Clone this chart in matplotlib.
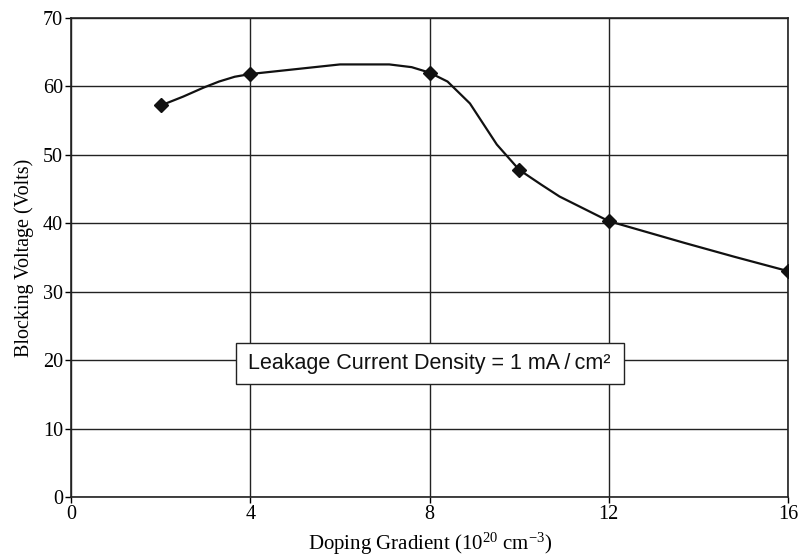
import matplotlib
matplotlib.use("Agg")
import matplotlib.pyplot as plt
from matplotlib.patches import Rectangle

# measured points (diamonds)
x_pts = [2, 4, 8, 10, 12, 16]
y_pts = [57.2, 61.8, 62.0, 47.8, 40.3, 33.0]

# smooth curve
x_curve = [2, 2.5, 2.95, 3.3, 3.65, 4, 5, 6.0, 7.1, 7.6, 8, 8.4, 8.9, 9.2, 9.5, 10, 10.5, 10.9, 12, 13.7, 14.8, 16]
y_curve = [57.2, 58.5, 59.8, 60.7, 61.4, 61.8, 62.5, 63.2, 63.2, 62.8, 62.0, 60.7, 57.5, 54.5, 51.5, 47.8, 45.6, 43.9, 40.3, 37.1, 35.1, 33.0]

x_ticks = [0, 4, 8, 12, 16]
y_ticks = [0, 10, 20, 30, 40, 50, 60, 70]

plt.rcParams['font.family'] = ['Liberation Serif', 'DejaVu Serif']
plt.rcParams['mathtext.fontset'] = 'custom'
plt.rcParams['mathtext.rm'] = 'Liberation Serif'
plt.rcParams['mathtext.it'] = 'Liberation Serif:italic'

fig = plt.figure(figsize=(8, 5.59), dpi=100)
ax = fig.add_axes([0.089, 0.111, 0.896, 0.857])

ax.plot(x_curve, y_curve, color='#111111', linewidth=1.6, zorder=3,
        solid_joinstyle='round')
ax.plot(x_pts, y_pts, linestyle='none', marker='D', markersize=7,
        color='#111111', zorder=4)

ax.set_xlim(0, 16)
ax.set_ylim(0, 70)
ax.set_xticks(x_ticks)
ax.set_yticks(y_ticks)
ax.grid(True, color='#222222', linewidth=1.0)
ax.set_axisbelow(True)
for s in ax.spines.values():
    s.set_color('#222222')
    s.set_linewidth(1.2)
ax.tick_params(direction='out', length=4, width=1, labelsize=14.5, pad=2)

ax.set_xlabel('Doping Gradient (10$^{\\mathrm{20}}$ cm$^{\\mathrm{\u22123}}$)', fontsize=15, labelpad=5)
ax.set_ylabel('Blocking Voltage (Volts)', fontsize=14.5, labelpad=6)

# legend-like box
ax.add_patch(Rectangle((3.68, 16.5), 8.66, 6.05, facecolor='white',
                       edgecolor='#222222', linewidth=1.0, zorder=5))
ax.text(8.0, 19.5, 'Leakage Current Density = 1 mA\u2009/\u2009cm\u00b2', fontsize=15.5,
        family=['Liberation Sans', 'DejaVu Sans'], ha='center', va='center',
        color='#111111', zorder=6)

fig.savefig('out.png', dpi=100)
